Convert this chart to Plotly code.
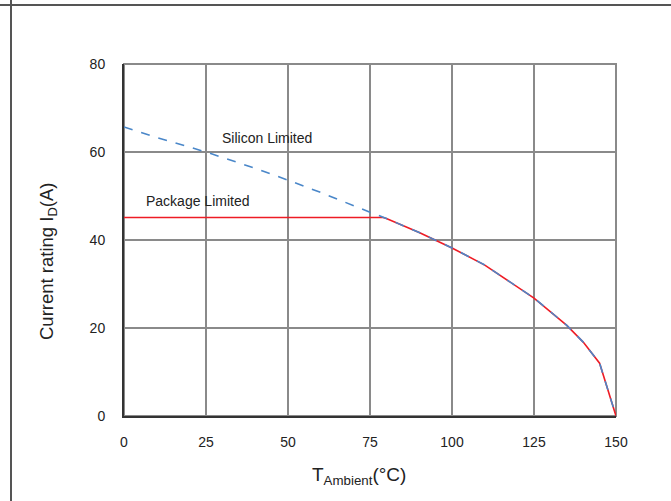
import plotly.graph_objects as go

# Silicon limited curve
si_t = [0, 10, 25, 40, 50, 60, 75, 80, 90, 100, 110, 125, 135, 140, 145, 150]
si_i = [65.7, 63.3, 60.0, 56.3, 53.6, 50.8, 46.3, 44.9, 41.7, 38.2, 34.3, 26.8, 20.6, 16.8, 12.0, 0]

# Package limited curve
pk_t = [0, 79, 80, 90, 100, 110, 125, 135, 140, 145, 150]
pk_i = [45.1, 45.1, 44.9, 41.7, 38.2, 34.3, 26.8, 20.6, 16.8, 12.0, 0]

x_ticks = [0, 25, 50, 75, 100, 125, 150]
y_ticks = [0, 20, 40, 60, 80]

FONT = "Liberation Sans, Arial"

fig = go.Figure()
fig.add_trace(go.Scatter(x=pk_t, y=pk_i, mode="lines",
                         line=dict(color="#ee1c25", width=1.6), showlegend=False))
fig.add_trace(go.Scatter(x=si_t, y=si_i, mode="lines",
                         line=dict(color="#4a87c9", width=1.6, dash="dash"), showlegend=False))

fig.add_annotation(x=43.6, y=63.2, text="Silicon Limited", showarrow=False,
                   xanchor="center", yanchor="middle",
                   font=dict(family=FONT, size=14, color="#222"))
fig.add_annotation(x=22.6, y=48.9, text="Package Limited", showarrow=False,
                   xanchor="center", yanchor="middle",
                   font=dict(family=FONT, size=14, color="#222"))

# axis titles
fig.add_annotation(xref="paper", yref="paper", x=(359 - 124) / 492, y=(416 - 476) / 352,
                   text="T<sub>Ambient</sub>(°C)", showarrow=False,
                   xanchor="center", yanchor="middle",
                   font=dict(family=FONT, size=19, color="#222"))
fig.add_annotation(xref="paper", yref="paper", x=(48 - 124) / 492, y=(416 - 262) / 352,
                   text="Current rating I<sub>D</sub>(A)", showarrow=False, textangle=-90,
                   xanchor="center", yanchor="middle",
                   font=dict(family=FONT, size=18.5, color="#222"))

# plot frame (gray) and outer page lines
fig.add_shape(type="rect", xref="paper", yref="paper", x0=0, y0=0, x1=1, y1=1,
              line=dict(color="#8a8a8a", width=2), layer="below")
fig.add_shape(type="line", xref="paper", yref="paper", x0=-124/492, x1=(671-124)/492,
              y0=1 + 59/352, y1=1 + 59/352, line=dict(color="#555", width=2))
fig.add_shape(type="line", xref="paper", yref="paper", x0=-113/492, x1=-113/492,
              y0=-85/352, y1=1 + 64/352, line=dict(color="#555", width=2))

axis_font = dict(family=FONT, size=14, color="#222")
fig.update_xaxes(range=[0, 150], tickvals=x_ticks, ticks="", showgrid=True,
                 gridcolor="#8a8a8a", gridwidth=1.5, showline=True, linecolor="#333",
                 linewidth=2, zeroline=False, tickfont=axis_font, ticklabelstandoff=12)
fig.update_yaxes(range=[0, 80], tickvals=y_ticks, ticks="", showgrid=True,
                 gridcolor="#8a8a8a", gridwidth=1.5, showline=True, linecolor="#333",
                 linewidth=2, zeroline=False, tickfont=axis_font, ticklabelstandoff=14)

fig.update_layout(width=671, height=501, margin=dict(l=124, r=55, t=64, b=85),
                  plot_bgcolor="white", paper_bgcolor="white")

fig.write_html("out.html")
